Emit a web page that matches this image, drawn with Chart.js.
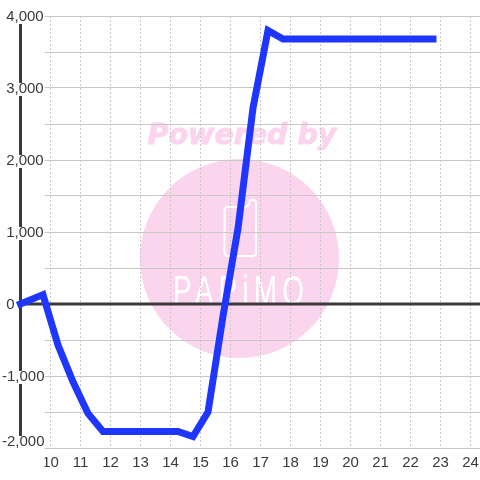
<!DOCTYPE html>
<html><head><meta charset="utf-8">
<style>html,body{margin:0;padding:0;background:#fff}#w{width:480px;height:480px}</style>
<script src="https://cdn.jsdelivr.net/npm/chart.js@4"></script>
</head><body><div id="w"><canvas id="c" width="480" height="480"></canvas></div>
<script>
const hours = [9,9.75,10.25,10.75,11.25,11.75,12.25,12.75,13.25,13.75,14.25,14.75,15.25,15.75,16.25,16.75,17.25,17.75,18.25,18.75,19.25,19.75,20.25,20.75,21.25,21.75,22.25,22.75];
const values = [0,130,-570,-1080,-1520,-1770,-1770,-1770,-1770,-1770,-1770,-1840,-1500,-170,1050,2720,3800,3680,3680,3680,3680,3680,3680,3680,3680,3680,3680,3680];
const yMin = -2000, yMax = 4000, xMin = 9, xMax = 24.317;
const yLabels = {'4000':['','\u00a04,000'],'3000':['','\u00a03,000'],'2000':['','\u00a02,000'],'1000':['','\u00a01,000'],'0':['','\u00a00'],'-1000':['','-1,000'],'-2000':['-2,000','','','','','','']};
const INK = '#3a3a3a', BLUE = '#1f36ff', PINK = '#fbd5ee';

const watermark = {id:'watermark', beforeDraw(chart){
  const c = chart.ctx; c.save();
  c.fillStyle='#fff'; c.fillRect(0,0,480,480);
  c.fillStyle=PINK; c.beginPath(); c.arc(239.5,258.5,99.5,0,Math.PI*2); c.fill();
  c.font='italic bold 28.5px "DejaVu Sans"'; c.textAlign='center'; c.textBaseline='alphabetic';
  c.strokeStyle=PINK; c.lineWidth=1;
  c.fillText('Powered by',242,144); c.strokeText('Powered by',242,144);
  c.strokeStyle='#fff'; c.lineWidth=2; c.lineJoin='round';
  c.beginPath();
  c.moveTo(228,207); c.lineTo(246,207); c.lineTo(249,205); c.lineTo(250,200); c.lineTo(255,200);
  c.lineTo(256,203); c.lineTo(256,253); c.quadraticCurveTo(256,256,252,256); c.lineTo(228,256);
  c.quadraticCurveTo(224.5,256,224.5,252); c.lineTo(224.5,211); c.quadraticCurveTo(224.5,207,228,207);
  c.closePath(); c.stroke();
  c.save(); c.translate(173,305); c.scale(0.65,1);
  c.fillStyle='#fff'; c.font='43px "Liberation Sans"'; c.letterSpacing='8px'; c.textAlign='left';
  c.fillText('PAPiMO',0,0);
  c.restore();
  c.restore();
}};
const gutter = {id:'gutter',
  beforeDatasetsDraw(chart){
    const c = chart.ctx; c.save(); c.fillStyle='#fff'; c.fillRect(0,0,44.5,480); c.restore();
  },
  afterDatasetsDraw(chart){
    const c = chart.ctx, s = chart.scales.y; c.save(); c.fillStyle='#fff';
    for (const k of Object.keys(yLabels)) {
      if (k==='0') continue;
      const v = Number(k), p = s.getPixelForValue(v) - (v===yMin?7:0);
      c.fillRect(1,p-5,43,13);
    }
    c.restore();
  }};
new Chart(document.getElementById('c'),{
  type:'scatter',
  data:{datasets:[
    {data:hours.map((h,i)=>({x:h,y:values[i]})),showLine:true,borderColor:BLUE,borderWidth:7,pointRadius:0,clip:false,tension:0,order:1,borderJoinStyle:'miter',borderCapStyle:'square'},
    {data:[{x:xMin,y:0},{x:xMax,y:0}],showLine:true,borderColor:INK,borderWidth:3,pointRadius:0,clip:false,order:2},
    {data:[{x:xMin,y:yMin},{x:xMin,y:yMax}],showLine:true,borderColor:INK,borderWidth:3,pointRadius:0,clip:false,order:3}
  ]},
  options:{
    responsive:false,animation:false,devicePixelRatio:1,
    layout:{padding:{top:16,left:0,right:0,bottom:0}},
    plugins:{legend:{display:false},tooltip:{enabled:false}},
    scales:{
      x:{type:'linear',min:xMin,max:xMax,
        afterFit(s){s.height=32;s.paddingLeft=0;s.paddingRight=0},
        border:{display:false,dash:[2,2]},
        grid:{color:'#c8c8c8',lineWidth:1,drawTicks:false},
        ticks:{stepSize:1,includeBounds:false,autoSkip:false,maxRotation:0,padding:6,color:INK,font:{family:'"Liberation Sans"',size:15},callback:v=>(Number.isInteger(v)&&v>=10)?String(v):''}},
      y:{type:'linear',min:yMin,max:yMax,
        afterFit(s){s.width=20.5;s.paddingTop=0;s.paddingBottom=0},
        border:{display:false},
        grid:{color:'#c8c8c8',lineWidth:1,drawTicks:false},
        ticks:{stepSize:500,autoSkip:false,mirror:true,padding:-18.5,z:1,color:INK,font:{family:'"Liberation Sans"',size:15,lineHeight:2/15},callback:v=>yLabels[String(v)]||''}}
    }
  },
  plugins:[watermark,gutter]
});
</script></body></html>
